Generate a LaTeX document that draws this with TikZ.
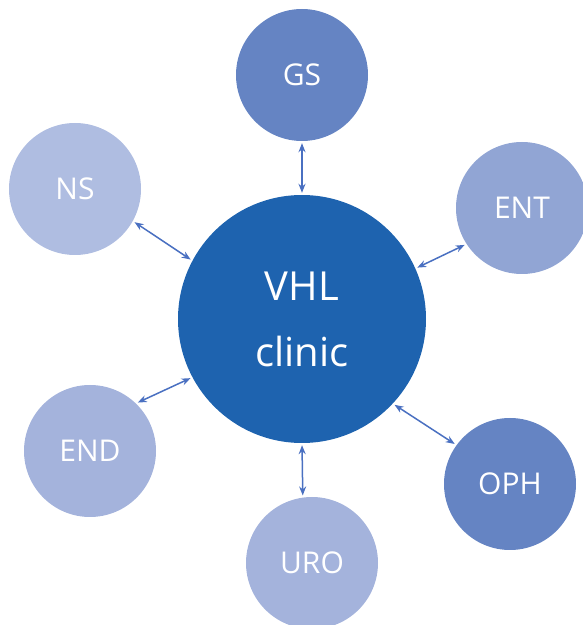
\documentclass[tikz,border=0pt]{standalone}
\usepackage{fontspec}
\setmainfont{Open Sans}
\usetikzlibrary{arrows.meta}
\definecolor{hubblue}{HTML}{1E63AF}
\definecolor{darkspoke}{HTML}{6584C3}
\definecolor{midspoke}{HTML}{91A5D4}
\definecolor{lightspoke}{HTML}{A4B3DC}
\definecolor{palespoke}{HTML}{AFBDE1}
\definecolor{linkblue}{HTML}{4A70C1}
\begin{document}
\begin{tikzpicture}[x=1pt,y=1pt,
  spoke/.style={circle, inner sep=0pt, minimum size=132pt, text=white, font=\fontsize{30}{36}\selectfont},
  link/.style={{Stealth[length=9pt,width=7pt]}-{Stealth[length=9pt,width=7pt]}, draw=linkblue, fill=linkblue, line width=1.5pt, shorten <=2pt, shorten >=2pt}]
\useasboundingbox (0,0) rectangle (583,625);
\node[circle, inner sep=0pt, minimum size=248pt, fill=hubblue, text=white, align=center, font=\fontsize{40}{66}\selectfont] (vhl) at (302,306) {VHL\\clinic};
\node[spoke, fill=darkspoke] (gs) at (302,550) {GS};
\node[spoke, fill=palespoke] (ns) at (75,436) {NS};
\node[spoke, fill=midspoke] (ent) at (522,417) {ENT};
\node[spoke, fill=lightspoke] (endo) at (90,174) {END};
\node[spoke, fill=darkspoke] (oph) at (510,141) {OPH};
\node[spoke, fill=lightspoke] (uro) at (312,62) {URO};
% links to the clinic
\draw[link] (vhl.90) -- (gs.270);
\draw[link] (vhl.152) -- (ns.-29);
\draw[link] (vhl.24) -- (ent.213);
\draw[link] (vhl.208) -- (endo.46);
\draw[link] (vhl.-43) -- (oph.144);
\draw[link] (vhl.270) -- (uro.98);
\end{tikzpicture}
\end{document}
